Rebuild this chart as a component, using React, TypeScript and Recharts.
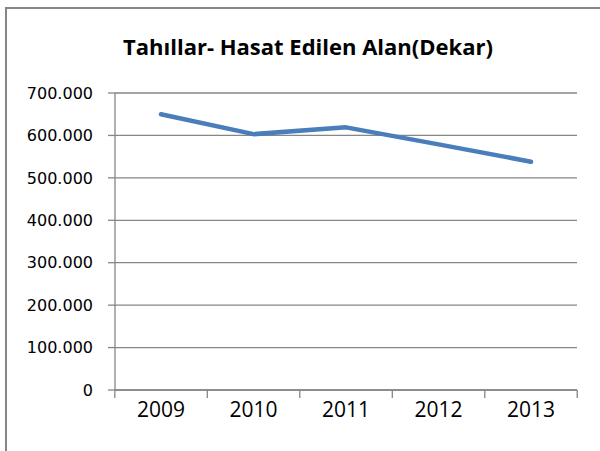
import { LineChart, Line, XAxis, YAxis, CartesianGrid } from 'recharts';

const years = ['2009', '2010', '2011', '2012', '2013'];
const area = [650000, 603000, 619000, 579000, 538000];
const yTicks = [0, 100000, 200000, 300000, 400000, 500000, 600000, 700000];

const data = years.map((year, i) => ({ year, area: area[i] }));

const GRAY = '#868686';
const BLUE = '#4A7EBB';
const HALF_BAND = 46.2;
const LABEL_GAP = 12;

const fmt = (v: number) => (v === 0 ? '0' : `${v / 1000}.000`);

// Excel-style category axis: tick marks sit between categories, labels in the middle
const YearTick = (props: any) => {
    const { x, y, payload, index } = props;
    const axisY = y - LABEL_GAP;
    return (
        <g>
            <line x1={x - HALF_BAND} x2={x - HALF_BAND} y1={axisY} y2={axisY + 8} stroke={GRAY} strokeWidth={1.3} />
            {index === years.length - 1 && (
                <line x1={x + HALF_BAND} x2={x + HALF_BAND} y1={axisY} y2={axisY + 8} stroke={GRAY} strokeWidth={1.3} />
            )}
            <text x={x} y={y} dy="0.71em" textAnchor="middle" fill="#000" fontSize={21} fontFamily='"Open Sans", sans-serif'>
                {payload.value}
            </text>
        </g>
    );
};

const App = () => (
    <div style={{ position: 'absolute', left: 0, top: 0, width: 600, height: 451, overflow: 'hidden', background: '#fff' }}>
        <div style={{ position: 'absolute', left: 5, top: 7, width: 700, height: 600, border: `2px solid ${GRAY}` }} />
        <div
            style={{
                position: 'absolute', left: 0, top: 30, width: 616, textAlign: 'center', lineHeight: '32px',
                fontFamily: '"Open Sans", sans-serif', fontWeight: 700, fontSize: 22, color: '#000',
            }}
        >
            Tahıllar- Hasat Edilen Alan(Dekar)
        </div>
        <LineChart width={600} height={451} data={data} margin={{ top: 93, right: 23, left: 0, bottom: 31 }} style={{ position: 'absolute', left: 0, top: 0 }}>
            <CartesianGrid vertical={false} stroke={GRAY} strokeWidth={1.3} />
            <XAxis
                dataKey="year" stroke={GRAY} strokeWidth={1.3} tickLine={false} tickSize={0} tickMargin={LABEL_GAP}
                height={30} padding={{ left: 46, right: 46 }} interval={0} tick={<YearTick />}
            />
            <YAxis
                width={115} domain={[0, 700000]} ticks={yTicks} tickFormatter={fmt} tickSize={7} tickMargin={15}
                stroke={GRAY} strokeWidth={1.3} interval={0}
                tick={{ fill: '#000', fontSize: 16, fontFamily: '"DejaVu Sans", sans-serif' }}
            />
            <Line
                dataKey="area" stroke={BLUE} strokeWidth={4.5} strokeLinecap="round" strokeLinejoin="round"
                dot={false} isAnimationActive={false}
            />
        </LineChart>
    </div>
);

export default App;
